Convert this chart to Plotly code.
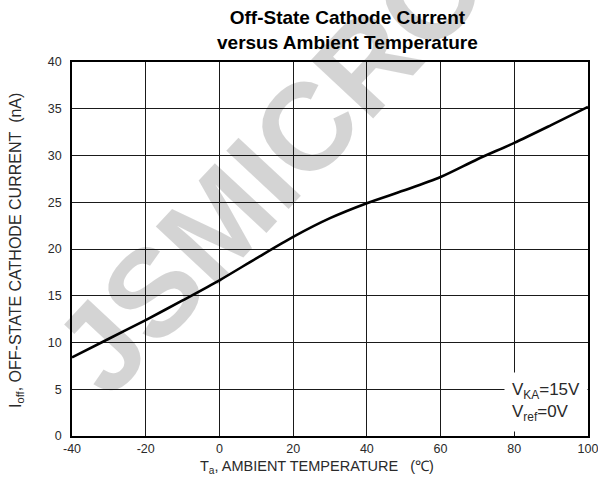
import plotly.graph_objects as go

# Data
temperature_c = [-40, -30, -20, -10, 0, 10, 20, 30, 40, 50, 60, 70, 80, 90, 100]
i_off_na = [8.4, 10.4, 12.4, 14.5, 16.65, 19.0, 21.3, 23.3, 24.9, 26.25, 27.7, 29.6, 31.35, 33.25, 35.2]

x_ticks = [-40, -20, 0, 20, 40, 60, 80, 100]
y_ticks = [0, 5, 10, 15, 20, 25, 30, 35, 40]

FONT = "Liberation Sans, Arial, Helvetica, sans-serif"
GRID = "#1a1a1a"
NB = "\u00a0"

# plot-area geometry in pixels (used to place paper-referenced texts)
L, R, T, B = 72, 588, 62, 436
def px(x):
    return (x - L) / (R - L)
def py(y):
    return (B - y) / (B - T)

fig = go.Figure()
fig.add_trace(go.Scatter(
    x=temperature_c, y=i_off_na, mode="lines",
    line=dict(color="black", width=2.6, shape="spline", smoothing=0.8),
    showlegend=False, hoverinfo="skip", cliponaxis=False,
))

axis_common = dict(
    showgrid=True, gridcolor=GRID, gridwidth=1.3,
    showline=True, linecolor="black", linewidth=1.6, mirror=True,
    zeroline=False, ticks="", fixedrange=True, automargin=False,
    ticklabeloverflow="allow",
    tickfont=dict(family=FONT, size=12.5, color="#2a2a2a"),
)

fig.update_layout(
    width=598, height=481,
    margin=dict(l=L, r=598 - R, t=T, b=481 - B),
    paper_bgcolor="white", plot_bgcolor="white",
    showlegend=False,
    xaxis=dict(range=[-40, 100], tickmode="array", tickvals=x_ticks,
               ticktext=[str(v) for v in x_ticks], ticklabelstandoff=0, **axis_common),
    yaxis=dict(range=[0, 40], tickmode="array", tickvals=y_ticks,
               ticktext=[str(v) for v in y_ticks], ticklabelstandoff=6, **axis_common),
)

# Watermark (semi-transparent so the grid and curve show through)
fig.add_annotation(
    text="JSMICRO", xref="paper", yref="paper",
    x=px(270), y=py(166),
    xanchor="center", yanchor="middle", showarrow=False, textangle=-47,
    font=dict(family=FONT, size=124, color="rgba(0,0,0,0.17)", weight="bold"),
)

# Title
fig.add_annotation(
    text="Off-State Cathode Current<br>versus Ambient Temperature",
    xref="paper", yref="paper", x=px(347), y=py(5),
    xanchor="center", yanchor="top", showarrow=False,
    font=dict(family=FONT, size=19, color="black", weight="bold"),
)

# Axis titles
fig.add_annotation(
    text="I<sub>off</sub>, OFF-STATE CATHODE CURRENT" + NB * 2 + "(nA)",
    xref="paper", yref="paper", x=px(16), y=py(251),
    xanchor="center", yanchor="middle", textangle=-90, showarrow=False,
    font=dict(family=FONT, size=16, color="#2a2a2a"),
)
fig.add_annotation(
    text="T<sub>a</sub>, AMBIENT TEMPERATURE" + NB * 3 + "(℃)",
    xref="paper", yref="paper", x=px(317), y=py(467),
    xanchor="center", yanchor="middle", showarrow=False,
    font=dict(family=FONT, size=14.5, color="#2a2a2a"),
)

# Test condition note
fig.add_annotation(
    text="V<sub>KA</sub>=15V<br>V<sub>ref</sub>=0V",
    xref="paper", yref="paper", x=px(504), y=py(401.5),
    xanchor="left", yanchor="middle", align="left", showarrow=False,
    bgcolor="white", borderpad=7,
    font=dict(family=FONT, size=17, color="#2a2a2a"),
)

fig.write_html("out.html")
